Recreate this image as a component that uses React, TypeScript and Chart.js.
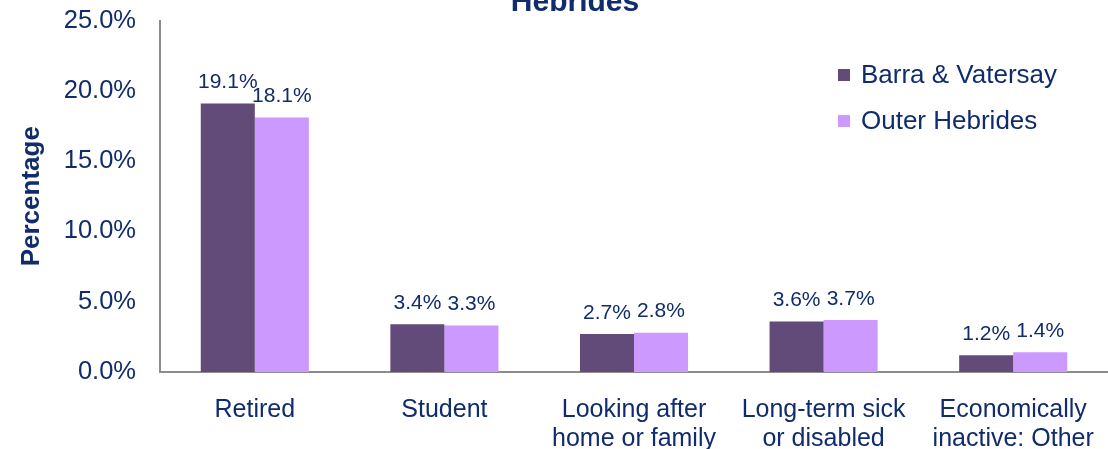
import React, { useEffect, useRef } from "react";
import { Chart, registerables } from "chart.js";

Chart.register(...registerables);

const categories: string[][] = [
  ["Retired"],
  ["Student"],
  ["Looking after", "home or family"],
  ["Long-term sick", "or disabled"],
  ["Economically", "inactive: Other"],
];
const seriesNames = ["Barra & Vatersay", "Outer Hebrides"];
const barraVatersay = [19.1, 3.4, 2.7, 3.6, 1.2];
const outerHebrides = [18.1, 3.3, 2.8, 3.7, 1.4];
const yTicks = [0, 5, 10, 15, 20, 25];
const titleText = "Hebrides";
const yTitle = "Percentage";

const TEXT = "#102c6c";
const COLORS = ["#624b79", "#cc99ff"];
const FONT = "'Liberation Sans', Arial, sans-serif";

const overlayPlugin = {
  id: "overlay",
  afterDatasetsDraw(chart: any) {
    const ctx = chart.ctx;
    ctx.save();
    // data labels
    ctx.font = `21px ${FONT}`;
    ctx.fillStyle = TEXT;
    ctx.textAlign = "center";
    ctx.textBaseline = "middle";
    chart.data.datasets.forEach((ds: any, i: number) => {
      const meta = chart.getDatasetMeta(i);
      meta.data.forEach((bar: any, j: number) => {
        ctx.fillText(ds.data[j].toFixed(1) + "%", bar.x, bar.y - 21);
      });
    });
    // title
    ctx.font = `bold 30px ${FONT}`;
    ctx.textBaseline = "alphabetic";
    ctx.fillText(titleText, 575, 11);
    // legend
    ctx.font = `26px ${FONT}`;
    ctx.textAlign = "left";
    ctx.textBaseline = "middle";
    seriesNames.forEach((name, i) => {
      const y = 75 + i * 46;
      ctx.fillStyle = COLORS[i];
      ctx.fillRect(838, y - 6, 12, 12);
      ctx.fillStyle = TEXT;
      ctx.fillText(name, 861, y + 1);
    });
    ctx.restore();
  },
};

export default function App() {
  const ref = useRef<HTMLCanvasElement | null>(null);
  useEffect(() => {
    if (!ref.current) return;
    const chart = new Chart(ref.current, {
      type: "bar",
      data: {
        labels: categories,
        datasets: [
          {
            label: seriesNames[0],
            data: barraVatersay,
            backgroundColor: COLORS[0],
            categoryPercentage: 0.57,
            barPercentage: 1,
          },
          {
            label: seriesNames[1],
            data: outerHebrides,
            backgroundColor: COLORS[1],
            categoryPercentage: 0.57,
            barPercentage: 1,
          },
        ],
      },
      options: {
        responsive: false,
        animation: false,
        layout: { padding: { top: 20.5, right: 0, left: 0, bottom: 0 } },
        plugins: {
          legend: { display: false },
          title: { display: false },
          tooltip: { enabled: false },
        },
        scales: {
          x: {
            grid: { display: false, drawTicks: false },
            border: { display: true, color: "#8c8c8c", width: 2 },
            ticks: {
              color: TEXT,
              font: { family: FONT, size: 25, lineHeight: 1.16 },
              padding: 24,
              autoSkip: false,
              maxRotation: 0,
              minRotation: 0,
            },
            afterFit(scale: any) {
              scale.height = 77;
              scale.paddingLeft = 0;
              scale.paddingRight = 0;
            },
          },
          y: {
            min: 0,
            max: 25,
            afterBuildTicks(scale: any) {
              scale.ticks = yTicks.map((v) => ({ value: v }));
            },
            grid: { display: false, drawTicks: false },
            border: { display: true, color: "#8c8c8c", width: 2 },
            ticks: {
              color: TEXT,
              font: { family: FONT, size: 25.5 },
              padding: 24,
              callback: (v: any) => Number(v).toFixed(1) + "%",
            },
            title: {
              display: true,
              text: yTitle,
              color: TEXT,
              font: { family: FONT, size: 26, weight: "bold" },
              padding: { top: 16, bottom: 0 },
            },
            afterFit(scale: any) {
              scale.width = 160;
              scale.paddingTop = 0;
              scale.paddingBottom = 0;
            },
          },
        },
      },
      plugins: [overlayPlugin],
    });
    return () => chart.destroy();
  }, []);
  return (
    <div style={{ position: "absolute", left: 0, top: 0, width: 1108, height: 449, background: "#fff" }}>
      <canvas ref={ref} width={1108} height={449} />
    </div>
  );
}
